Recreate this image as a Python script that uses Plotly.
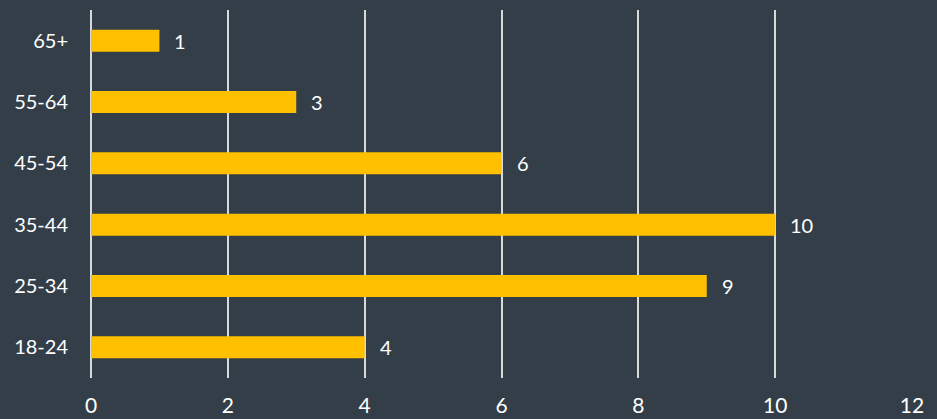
import plotly.graph_objects as go

categories = ["18-24", "25-34", "35-44", "45-54", "55-64", "65+"]
values = [4, 9, 10, 6, 3, 1]
x_ticks = [0, 2, 4, 6, 8, 10, 12]

BG = "#333E48"
BAR = "#FFC000"
GRID = "#D9D9D9"
FONT = "Lato"

fig = go.Figure()
fig.add_trace(go.Bar(
    y=categories, x=values, orientation="h",
    marker=dict(color=BAR, line=dict(width=0)),
    width=0.36, hoverinfo="skip",
))
for c, v in zip(categories, values):
    fig.add_annotation(x=v, y=c, text=str(v), showarrow=False,
                       xanchor="left", xshift=13,
                       font=dict(family=FONT, size=20, color="white"))

fig.update_layout(
    width=937, height=419,
    paper_bgcolor=BG, plot_bgcolor=BG,
    margin=dict(l=91, r=25, t=10, b=41),
    showlegend=False,
    font=dict(family=FONT, color="white", size=20),
    xaxis=dict(range=[0, 12], tickvals=x_ticks, showgrid=True,
               gridcolor=GRID, gridwidth=1.5, zeroline=True,
               zerolinecolor=GRID, zerolinewidth=1.5,
               showline=False, ticklabelstandoff=13, automargin=False,
               tickfont=dict(family=FONT, size=21, color="white")),
    yaxis=dict(categoryorder="array", categoryarray=categories,
               showgrid=False, zeroline=False, showline=False,
               ticklabelstandoff=22, automargin=False,
               tickfont=dict(family=FONT, size=20, color="white")),
)
fig.write_html("out.html", config={"displayModeBar": False},
               post_script="document.body.style.margin='0';document.body.style.overflow='hidden';")
